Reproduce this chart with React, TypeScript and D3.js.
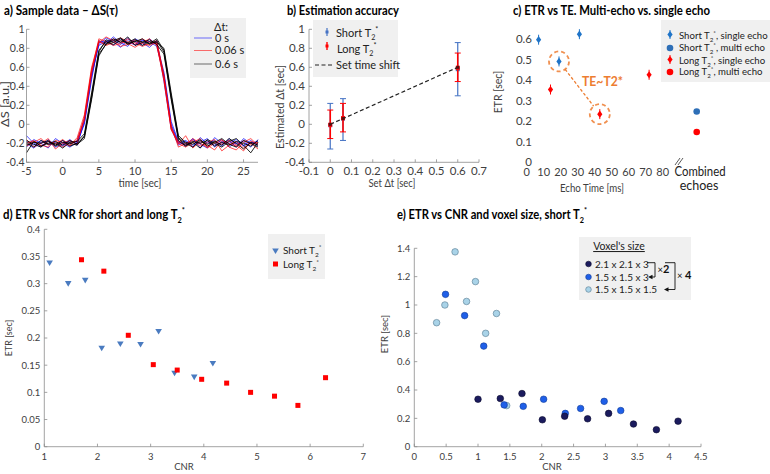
import React from 'react';
import * as d3 from 'd3';

const FONT = 'Lato, "Open Sans", sans-serif';
const TICK_COLOR = '#404040';
const AXIS_COLOR = '#8c8c8c';

// ---------- Panel a: sample data ----------
const TIME = [-5, -4, -3, -2, -1, 0, 1, 2, 3, 4, 5, 6, 7, 8, 9, 10, 11, 12, 13, 14, 15, 16, 17, 18, 19, 20, 21, 22, 23, 24, 25, 26, 27];
const TRACES_0S = [
  [-0.18, -0.22, -0.17, -0.21, -0.19, -0.23, -0.18, -0.2, 0.02, 0.5, 0.86, 0.88, 0.83, 0.9, 0.86, 0.84, 0.89, 0.85, 0.87, 0.5, -0.02, -0.2, -0.17, -0.22, -0.19, -0.15, -0.24, -0.18, -0.2, -0.16, -0.23, -0.19, -0.21],
  [-0.12, -0.2, -0.24, -0.16, -0.22, -0.17, -0.21, -0.17, 0.06, 0.55, 0.84, 0.91, 0.87, 0.81, 0.89, 0.87, 0.83, 0.9, 0.84, 0.55, 0.03, -0.18, -0.23, -0.16, -0.21, -0.25, -0.14, -0.2, -0.17, -0.24, -0.15, -0.2, -0.18],
  [-0.24, -0.16, -0.2, -0.25, -0.15, -0.2, -0.24, -0.19, 0.0, 0.47, 0.88, 0.85, 0.92, 0.86, 0.82, 0.9, 0.86, 0.81, 0.88, 0.45, -0.05, -0.22, -0.18, -0.24, -0.14, -0.2, -0.17, -0.23, -0.15, -0.21, -0.18, -0.24, -0.16],
  [-0.2, -0.25, -0.19, -0.18, -0.24, -0.21, -0.16, -0.22, 0.03, 0.52, 0.83, 0.87, 0.89, 0.84, 0.91, 0.83, 0.88, 0.87, 0.82, 0.52, 0.0, -0.19, -0.21, -0.15, -0.25, -0.18, -0.22, -0.16, -0.24, -0.19, -0.22, -0.17, -0.23],
];
const TRACES_006S = [
  [-0.2, -0.17, -0.23, -0.18, -0.21, -0.16, -0.22, -0.14, 0.1, 0.6, 0.88, 0.84, 0.9, 0.87, 0.85, 0.81, 0.86, 0.9, 0.83, 0.48, -0.05, -0.21, -0.12, -0.25, -0.18, -0.22, -0.27, -0.17, -0.2, -0.23, -0.17, -0.21, -0.19],
  [-0.23, -0.19, -0.15, -0.22, -0.18, -0.24, -0.19, -0.18, 0.05, 0.56, 0.9, 0.87, 0.83, 0.85, 0.9, 0.86, 0.82, 0.85, 0.88, 0.52, -0.02, -0.24, -0.2, -0.17, -0.23, -0.19, -0.16, -0.28, -0.22, -0.18, -0.25, -0.2, -0.26],
  [-0.16, -0.24, -0.2, -0.15, -0.26, -0.2, -0.17, -0.21, 0.08, 0.58, 0.86, 0.92, 0.88, 0.82, 0.84, 0.89, 0.85, 0.83, 0.86, 0.5, -0.03, -0.2, -0.24, -0.19, -0.15, -0.25, -0.2, -0.16, -0.24, -0.27, -0.19, -0.15, -0.22],
  [-0.21, -0.18, -0.22, -0.24, -0.17, -0.19, -0.23, -0.16, 0.04, 0.53, 0.87, 0.83, 0.86, 0.91, 0.87, 0.84, 0.9, 0.86, 0.85, 0.46, -0.06, -0.18, -0.22, -0.15, -0.2, -0.24, -0.18, -0.21, -0.17, -0.22, -0.28, -0.18, -0.2],
];
const TRACES_06S = [
  [-0.22, -0.19, -0.2, -0.17, -0.23, -0.19, -0.2, -0.22, -0.12, 0.3, 0.76, 0.89, 0.86, 0.9, 0.84, 0.88, 0.87, 0.85, 0.9, 0.78, 0.3, -0.14, -0.2, -0.24, -0.17, -0.21, -0.18, -0.22, -0.15, -0.2, -0.26, -0.19, -0.22],
  [-0.3, -0.18, -0.23, -0.2, -0.18, -0.22, -0.17, -0.21, -0.15, 0.26, 0.72, 0.85, 0.9, 0.86, 0.92, 0.83, 0.86, 0.89, 0.84, 0.74, 0.26, -0.17, -0.23, -0.19, -0.25, -0.16, -0.2, -0.24, -0.18, -0.15, -0.22, -0.3, -0.19],
  [-0.19, -0.24, -0.17, -0.21, -0.2, -0.25, -0.19, -0.18, -0.1, 0.33, 0.78, 0.87, 0.84, 0.88, 0.86, 0.9, 0.83, 0.87, 0.86, 0.8, 0.33, -0.12, -0.19, -0.21, -0.16, -0.23, -0.19, -0.15, -0.21, -0.24, -0.17, -0.2, -0.24],
  [-0.17, -0.21, -0.24, -0.18, -0.22, -0.17, -0.23, -0.2, -0.13, 0.28, 0.74, 0.84, 0.88, 0.91, 0.85, 0.87, 0.9, 0.84, 0.88, 0.76, 0.28, -0.15, -0.22, -0.18, -0.2, -0.17, -0.23, -0.19, -0.22, -0.18, -0.2, -0.23, -0.17],
];
const A_LEGEND = ['0 s', '0.06 s', '0.6 s'];
const A_X_TICKS = [-5, 0, 5, 10, 15, 20, 25];
const A_Y_TICKS = [-0.4, -0.2, 0, 0.2, 0.4, 0.6, 0.8, 1];

// ---------- Panel b: estimation accuracy ----------
const B_SET = [0, 0.06, 0.6];
const B_SHORT_MEAN = [-0.01, 0.06, 0.58];
const B_SHORT_LO = [-0.26, -0.17, 0.3];
const B_SHORT_HI = [0.22, 0.27, 0.86];
const B_LONG_MEAN = [-0.005, 0.065, 0.595];
const B_LONG_LO = [-0.15, -0.08, 0.45];
const B_LONG_HI = [0.15, 0.22, 0.75];
const B_X_TICKS = [-0.1, 0, 0.1, 0.2, 0.3, 0.4, 0.5, 0.6, 0.7];
const B_Y_TICKS = [-0.4, -0.2, 0, 0.2, 0.4, 0.6, 0.8, 1];

// ---------- Panel c: ETR vs TE ----------
const C_SHORT_SINGLE_TE = [7, 19, 31];
const C_SHORT_SINGLE_ETR = [0.598, 0.492, 0.625];
const C_LONG_SINGLE_TE = [14, 43, 72];
const C_LONG_SINGLE_ETR = [0.355, 0.235, 0.427];
const C_COMBINED_X = 100;
const C_BREAK_X = 89;
const C_SHORT_MULTI_ETR = 0.248;
const C_LONG_MULTI_ETR = 0.148;
const C_X_TICKS = [0, 10, 20, 30, 40, 50, 60, 70, 80];
const C_Y_TICKS = [0, 0.1, 0.2, 0.3, 0.4, 0.5, 0.6];

// ---------- Panel d: ETR vs CNR ----------
const D_SHORT_CNR = [1.1, 1.45, 1.77, 2.08, 2.43, 2.81, 3.15, 3.45, 3.82, 4.17];
const D_SHORT_ETR = [0.338, 0.3, 0.306, 0.181, 0.189, 0.188, 0.212, 0.135, 0.128, 0.153];
const D_LONG_CNR = [1.7, 2.12, 2.58, 3.05, 3.5, 3.96, 4.43, 4.88, 5.33, 5.77, 6.29];
const D_LONG_ETR = [0.344, 0.323, 0.205, 0.151, 0.141, 0.124, 0.117, 0.1, 0.093, 0.076, 0.127];
const D_X_TICKS = [1, 2, 3, 4, 5, 6, 7];
const D_Y_TICKS = [0, 0.05, 0.1, 0.15, 0.2, 0.25, 0.3, 0.35, 0.4];

// ---------- Panel e: ETR vs CNR and voxel size ----------
const E_VOX_LABELS = ['2.1 x 2.1 x 3', '1.5 x 1.5 x 3', '1.5 x 1.5 x 1.5'];
const E_LARGE_CNR = [1.0, 1.35, 1.69, 2.01, 2.36, 2.72, 3.05, 3.44, 3.8, 4.14];
const E_LARGE_ETR = [0.335, 0.34, 0.375, 0.19, 0.215, 0.197, 0.235, 0.16, 0.12, 0.18];
const E_MED_CNR = [0.49, 0.79, 1.09, 1.41, 1.71, 2.03, 2.37, 2.61, 2.98, 3.24];
const E_MED_ETR = [1.075, 0.925, 0.71, 0.295, 0.285, 0.335, 0.235, 0.27, 0.32, 0.255];
const E_SMALL_CNR = [0.35, 0.48, 0.64, 0.82, 0.96, 1.12, 1.29, 1.45];
const E_SMALL_ETR = [0.875, 1.0, 1.375, 1.025, 1.165, 0.8, 0.94, 0.29];
const E_X_TICKS = [0, 0.5, 1, 1.5, 2, 2.5, 3, 3.5, 4, 4.5];
const E_Y_TICKS = [0, 0.2, 0.4, 0.6, 0.8, 1, 1.2, 1.4];

const BLUE_B = '#4472c4';
const BLUE_C = '#1f74c8';
const BLUE_C2 = '#2e6fb7';
const BLUE_D = '#4a7bc0';
const RED = '#ff0000';
const ORANGE = '#ed7d31';
const E_COLORS = ['#1b1b5e', '#1f5fe8', '#a9d3e8'];
const E_STROKES = ['#0a0a2e', '#123d96', '#55798f'];

type Lin = d3.ScaleLinear<number, number>;

function fmt(v: number) {
  return String(+v.toFixed(3));
}

function LeftAxis({ y, ticks, atX, fs, gap = 3 }: { y: Lin; ticks: number[]; atX: number; fs: number; gap?: number }) {
  const [y0, y1] = y.range();
  return (
    <g>
      <line x1={atX} x2={atX} y1={y0} y2={y1} stroke={AXIS_COLOR} strokeWidth={0.8} />
      {ticks.map((t) => (
        <g key={t}>
          <line x1={atX} x2={atX + 3} y1={y(t)} y2={y(t)} stroke={AXIS_COLOR} strokeWidth={0.8} />
          <text x={atX - gap} y={y(t)} dy="0.35em" textAnchor="end" fontSize={fs} fill={TICK_COLOR}>{fmt(t)}</text>
        </g>
      ))}
    </g>
  );
}

function BottomAxis({ x, ticks, atY, fs, labelDy = 12 }: { x: Lin; ticks: number[]; atY: number; fs: number; labelDy?: number }) {
  const [a, b] = x.range();
  return (
    <g>
      <line x1={a} x2={b} y1={atY} y2={atY} stroke={AXIS_COLOR} strokeWidth={0.8} />
      {ticks.map((t) => (
        <g key={t}>
          <line x1={x(t)} x2={x(t)} y1={atY} y2={atY - 3} stroke={AXIS_COLOR} strokeWidth={0.8} />
          <text x={x(t)} y={atY + labelDy} textAnchor="middle" fontSize={fs} fill={TICK_COLOR}>{fmt(t)}</text>
        </g>
      ))}
    </g>
  );
}

function T2({ fs, prefix = '', suffix = '' }: { fs: number; prefix?: string; suffix?: string }) {
  return (
    <>
      {prefix}T
      <tspan fontSize={fs * 0.65} dy={fs * 0.3}>2</tspan>
      <tspan fontSize={fs * 0.65} dy={-fs * 0.75}>*</tspan>
      <tspan dy={fs * 0.45}>{suffix}</tspan>
    </>
  );
}

function PanelA() {
  const x = d3.scaleLinear([-5, 27], [26.5, 258]);
  const y = d3.scaleLinear([-0.4, 1], [162.3, 29.3]);
  const line = d3.line<number>().x((_, i) => x(TIME[i])).y((v) => y(v));
  const groups: [number[][], string][] = [[TRACES_0S, '#0000ff'], [TRACES_006S, '#ff0000'], [TRACES_06S, '#000000']];
  const legendColors = ['#0000ff', '#ff0000', '#000000'];
  const ly = [38, 50.5, 64];
  return (
    <g>
      <text x={4} y={15} fontSize={13} fontWeight="bold" textLength={114} lengthAdjust="spacingAndGlyphs">a)  Sample data – ΔS(τ)</text>
      {groups.map(([trs, c], gi) =>
        trs.map((tr, i) => (
          <path key={gi + '-' + i} d={line(tr) || ''} fill="none" stroke={c} strokeWidth={gi === 2 ? 1 : 0.8} strokeOpacity={0.85} />
        ))
      )}
      <LeftAxis y={y} ticks={A_Y_TICKS} atX={x(-5)} fs={10.5} gap={2} />
      <BottomAxis x={x} ticks={A_X_TICKS} atY={y(-0.4)} fs={11} labelDy={13} />
      <text x={140} y={187} textAnchor="middle" fontSize={11} fill={TICK_COLOR} textLength={43} lengthAdjust="spacingAndGlyphs">time [sec]</text>
      <text transform="translate(8.5,104) rotate(-90)" textAnchor="middle" fontSize={10.5} fill={TICK_COLOR} textLength={46} lengthAdjust="spacingAndGlyphs">ΔS [a.u.]</text>
      <rect x={190} y={18} width={56} height={60} fill="#f0f0f0" />
      <text x={221} y={31} textAnchor="middle" fontSize={11} fill="#222">Δt:</text>
      {A_LEGEND.map((l, i) => (
        <g key={l}>
          <line x1={194} x2={212} y1={ly[i]} y2={ly[i]} stroke={legendColors[i]} strokeWidth={0.8} strokeOpacity={0.7} />
          <text x={215} y={ly[i]} dy="0.35em" fontSize={11} fill="#222">{l}</text>
        </g>
      ))}
    </g>
  );
}

function PanelB() {
  const x = d3.scaleLinear([-0.1, 0.7], [309, 479]);
  const y = d3.scaleLinear([-0.4, 1], [162.3, 29.3]);
  const cap = 3;
  const bars = (means: number[], lo: number[], hi: number[], color: string, w: number) =>
    B_SET.map((s, i) => (
      <g key={color + i}>
        <line x1={x(s)} x2={x(s)} y1={y(lo[i])} y2={y(hi[i])} stroke={color} strokeWidth={w} />
        <line x1={x(s) - cap} x2={x(s) + cap} y1={y(lo[i])} y2={y(lo[i])} stroke={color} strokeWidth={1} />
        <line x1={x(s) - cap} x2={x(s) + cap} y1={y(hi[i])} y2={y(hi[i])} stroke={color} strokeWidth={1} />
        <rect x={x(s) - 2} y={y(means[i]) - 2} width={4} height={4} fill={color} />
      </g>
    ));
  return (
    <g>
      <text x={287} y={15} fontSize={13} fontWeight="bold" textLength={112} lengthAdjust="spacingAndGlyphs">b)  Estimation accuracy</text>
      {bars(B_SHORT_MEAN, B_SHORT_LO, B_SHORT_HI, BLUE_B, 1.2)}
      {bars(B_LONG_MEAN, B_LONG_LO, B_LONG_HI, RED, 1.6)}
      <line x1={x(B_SET[0])} y1={y(B_SET[0])} x2={x(B_SET[2])} y2={y(B_SET[2])} stroke="#222" strokeWidth={1.2} strokeDasharray="4,2.5" />
      {B_SET.map((s) => (
        <rect key={s} x={x(s) - 1.5} y={y(s) - 1.5} width={3} height={3} fill="#551111" />
      ))}
      <LeftAxis y={y} ticks={B_Y_TICKS} atX={x(-0.1)} fs={11.5} gap={4} />
      <BottomAxis x={x} ticks={B_X_TICKS} atY={y(-0.4)} fs={11.5} labelDy={13} />
      <text x={392} y={187} textAnchor="middle" fontSize={11} fill={TICK_COLOR} textLength={47} lengthAdjust="spacingAndGlyphs">Set Δt [sec]</text>
      <text transform="translate(284,107) rotate(-90)" textAnchor="middle" fontSize={11.5} fill={TICK_COLOR} textLength={84} lengthAdjust="spacingAndGlyphs">Estimated Δt [sec]</text>
      <rect x={313} y={20} width={85} height={57} fill="#f0f0f0" />
      <line x1={327} x2={327} y1={28} y2={36} stroke={BLUE_B} strokeWidth={1.2} />
      <rect x={325.5} y={30.5} width={3} height={3} fill={BLUE_B} />
      <text x={336} y={33} dy="0.35em" fontSize={11} fill="#222"><T2 fs={11} prefix="Short " /></text>
      <line x1={327} x2={327} y1={42} y2={50} stroke={RED} strokeWidth={1.4} />
      <rect x={325.5} y={44.5} width={3} height={3} fill={RED} />
      <text x={337} y={49} dy="0.35em" fontSize={11} fill="#222"><T2 fs={11} prefix="Long " /></text>
      <line x1={315} x2={333} y1={65} y2={65} stroke="#222" strokeWidth={1.2} strokeDasharray="4,2.5" />
      <text x={336} y={65} dy="0.35em" fontSize={11} fill="#222">Set time shift</text>
    </g>
  );
}

const diamond = 'M0,-3.6L2.6,0L0,3.6L-2.6,0Z';

function PanelC() {
  const x = d3.scaleLinear([0, 100], [526.7, 696.7]);
  const y = d3.scaleLinear([0, 0.6], [162.3, 39.3]);
  const p1: [number, number] = [x(C_SHORT_SINGLE_TE[1]), y(C_SHORT_SINGLE_ETR[1])];
  const p2: [number, number] = [x(C_LONG_SINGLE_TE[1]), y(C_LONG_SINGLE_ETR[1])];
  const r = 10;
  const ang = Math.atan2(p2[1] - p1[1], p2[0] - p1[0]);
  const bx = x(C_BREAK_X);
  return (
    <g>
      <text x={513} y={15} fontSize={13} fontWeight="bold" textLength={197} lengthAdjust="spacingAndGlyphs">c) ETR vs TE. Multi-echo vs. single echo</text>
      {C_Y_TICKS.map((t) => (
        <text key={t} x={532} y={y(t)} dy="0.35em" textAnchor="end" fontSize={11.5} fill={TICK_COLOR}>{fmt(t)}</text>
      ))}
      {C_X_TICKS.map((t) => (
        <text key={t} x={x(t)} y={176} textAnchor="middle" fontSize={11} fill={TICK_COLOR}>{t}</text>
      ))}
      <text x={700} y={176} textAnchor="middle" fontSize={12.5} fill="#222" textLength={51} lengthAdjust="spacingAndGlyphs">Combined</text>
      <text x={699} y={190} textAnchor="middle" fontSize={12.5} fill="#222">echoes</text>
      <line x1={bx - 3} y1={165} x2={bx + 2} y2={158} stroke="#333" strokeWidth={0.8} />
      <line x1={bx} y1={165} x2={bx + 5} y2={158} stroke="#333" strokeWidth={0.8} />
      <text x={592} y={192} textAnchor="middle" fontSize={10.5} fill={TICK_COLOR} textLength={64} lengthAdjust="spacingAndGlyphs">Echo Time [ms]</text>
      <text transform="translate(502,92) rotate(-90)" textAnchor="middle" fontSize={10.5} fill={TICK_COLOR}>ETR [sec]</text>
      <circle cx={p1[0]} cy={p1[1]} r={r} fill="none" stroke={ORANGE} strokeWidth={1.8} strokeDasharray="4,3" strokeOpacity={0.85} />
      <circle cx={p2[0]} cy={p2[1]} r={r} fill="none" stroke={ORANGE} strokeWidth={1.8} strokeDasharray="4,3" strokeOpacity={0.85} />
      <line x1={p1[0] + r * Math.cos(ang)} y1={p1[1] + r * Math.sin(ang)} x2={p2[0] - r * Math.cos(ang)} y2={p2[1] - r * Math.sin(ang)} stroke={ORANGE} strokeWidth={1.3} strokeDasharray="3,2" />
      <text x={582} y={86} fontSize={12.5} fontWeight="bold" fill={ORANGE} textLength={41} lengthAdjust="spacingAndGlyphs">TE~T2*</text>
      {C_SHORT_SINGLE_TE.map((t, i) => (
        <g key={'s' + i} transform={`translate(${x(t)},${y(C_SHORT_SINGLE_ETR[i])})`}>
          <line y1={-5} y2={5} stroke={BLUE_C} strokeWidth={1} />
          <path d={diamond} fill={BLUE_C} />
        </g>
      ))}
      {C_LONG_SINGLE_TE.map((t, i) => (
        <g key={'l' + i} transform={`translate(${x(t)},${y(C_LONG_SINGLE_ETR[i])})`}>
          <line y1={-5} y2={5} stroke={RED} strokeWidth={1} />
          <path d={diamond} fill={RED} />
        </g>
      ))}
      <circle cx={x(C_COMBINED_X)} cy={y(C_SHORT_MULTI_ETR)} r={3.3} fill={BLUE_C2} />
      <circle cx={x(C_COMBINED_X)} cy={y(C_LONG_MULTI_ETR)} r={3.3} fill={RED} />
      <rect x={661} y={20} width={109} height={62} fill="#f0f0f0" />
      {[
        ['Short ', ', single echo', BLUE_C, true],
        ['Short ', ', multi echo', BLUE_C2, false],
        ['Long ', ', single echo', RED, true],
        ['Long ', ', multi echo', RED, false],
      ].map(([pre, suf, col, dia], i) => {
        const yy = [35.5, 48, 60.5, 72][i];
        return (
          <g key={i}>
            {dia ? (
              <g transform={`translate(670,${yy - 1})`}>
                <line y1={-4.5} y2={4.5} stroke={col as string} strokeWidth={1} />
                <path d={diamond} fill={col as string} />
              </g>
            ) : (
              <circle cx={670} cy={yy} r={3.3} fill={col as string} />
            )}
            <text x={679} y={yy} dy="0.35em" fontSize={9.6} fill="#222"><T2 fs={9.6} prefix={pre as string} suffix={suf as string} /></text>
          </g>
        );
      })}
    </g>
  );
}

const triDown = 'M-3.3,-2.6L3.3,-2.6L0,3Z';

function PanelD() {
  const x = d3.scaleLinear([1, 7], [44.3, 363.3]);
  const y = d3.scaleLinear([0, 0.4], [446.7, 229.3]);
  return (
    <g>
      <text x={3} y={219} fontSize={12.5} fontWeight="bold" textLength={182} lengthAdjust="spacingAndGlyphs"><T2 fs={12.5} prefix="d) ETR vs CNR for short and long " /></text>
      <LeftAxis y={y} ticks={D_Y_TICKS} atX={x(1)} fs={9.5} gap={4} />
      <BottomAxis x={x} ticks={D_X_TICKS} atY={y(0)} fs={9.5} labelDy={13} />
      <text x={184} y={470} textAnchor="middle" fontSize={9.5} fill={TICK_COLOR}>CNR</text>
      <text transform="translate(12,338) rotate(-90)" textAnchor="middle" fontSize={9} fill={TICK_COLOR}>ETR [sec]</text>
      {D_SHORT_CNR.map((c, i) => (
        <path key={'s' + i} d={triDown} transform={`translate(${x(c)},${y(D_SHORT_ETR[i])})`} fill={BLUE_D} />
      ))}
      {D_LONG_CNR.map((c, i) => (
        <rect key={'l' + i} x={x(c) - 2.5} y={y(D_LONG_ETR[i]) - 2.5} width={5} height={5} fill={RED} />
      ))}
      <rect x={268} y={234} width={57} height={45} fill="#f0f0f0" />
      <path d={triDown} transform="translate(275.5,251)" fill={BLUE_D} />
      <text x={283} y={250} dy="0.35em" fontSize={10} fill="#222"><T2 fs={10} prefix="Short " /></text>
      <rect x={273} y={261.5} width={5} height={5} fill={RED} />
      <text x={283} y={264.5} dy="0.35em" fontSize={10} fill="#222"><T2 fs={10} prefix="Long " /></text>
    </g>
  );
}

function PanelE() {
  const x = d3.scaleLinear([0, 4.5], [414.3, 701]);
  const y = d3.scaleLinear([0, 1.4], [446.7, 248.3]);
  const sets: [number[], number[]][] = [[E_LARGE_CNR, E_LARGE_ETR], [E_MED_CNR, E_MED_ETR], [E_SMALL_CNR, E_SMALL_ETR]];
  const ly = [264, 277, 289.5];
  return (
    <g>
      <text x={397} y={219} fontSize={12.5} fontWeight="bold" textLength={190} lengthAdjust="spacingAndGlyphs"><T2 fs={12.5} prefix="e) ETR vs CNR and voxel size, short " /></text>
      <LeftAxis y={y} ticks={E_Y_TICKS} atX={x(0)} fs={9.5} gap={4} />
      <BottomAxis x={x} ticks={E_X_TICKS} atY={y(0)} fs={9.5} labelDy={13} />
      <text x={552} y={470} textAnchor="middle" fontSize={9.5} fill={TICK_COLOR}>CNR</text>
      <text transform="translate(388,334) rotate(-90)" textAnchor="middle" fontSize={9.5} fill={TICK_COLOR}>ETR [sec]</text>
      {[2, 1, 0].map((k) =>
        sets[k][0].map((c, i) => (
          <circle key={k + '-' + i} cx={x(c)} cy={y(sets[k][1][i])} r={3.3} fill={E_COLORS[k]} stroke={E_STROKES[k]} strokeWidth={0.6} />
        ))
      )}
      <rect x={579} y={237} width={112} height={63} fill="#f0f0f0" />
      <text x={619} y={250} textAnchor="middle" fontSize={10.5} fill="#222" textDecoration="underline">Voxel's size</text>
      {E_VOX_LABELS.map((l, i) => (
        <g key={l}>
          <circle cx={588.5} cy={ly[i]} r={2.8} fill={E_COLORS[i]} stroke={E_STROKES[i]} strokeWidth={0.6} />
          <text x={595} y={ly[i]} dy="0.35em" fontSize={10} fill="#222">{l}</text>
        </g>
      ))}
      <polyline points={`647,262.7 655,262.7 655,277 652,277`} fill="none" stroke="#111" strokeWidth={0.9} />
      <path d="M652.5,274.7L648,277L652.5,279.3Z" fill="#111" />
      <text x={657.5} y={273} fontSize={9.5} fill="#111">×<tspan fontWeight="bold" fontSize={11}>2</tspan></text>
      <polyline points={`665,262.7 675,262.7 675,289.5 668,289.5`} fill="none" stroke="#111" strokeWidth={0.9} />
      <path d="M668.5,287.2L664,289.5L668.5,291.8Z" fill="#111" />
      <text x={677} y={279} fontSize={9.5} fill="#111">× <tspan fontWeight="bold" fontSize={11}>4</tspan></text>
    </g>
  );
}

export default function App() {
  return (
    <svg width={770} height={474} viewBox="0 0 770 474" style={{ position: 'absolute', left: 0, top: 0, background: '#fff' }} fontFamily={FONT}>
      <rect width={770} height={474} fill="#fff" />
      <PanelA />
      <PanelB />
      <PanelC />
      <PanelD />
      <PanelE />
    </svg>
  );
}
